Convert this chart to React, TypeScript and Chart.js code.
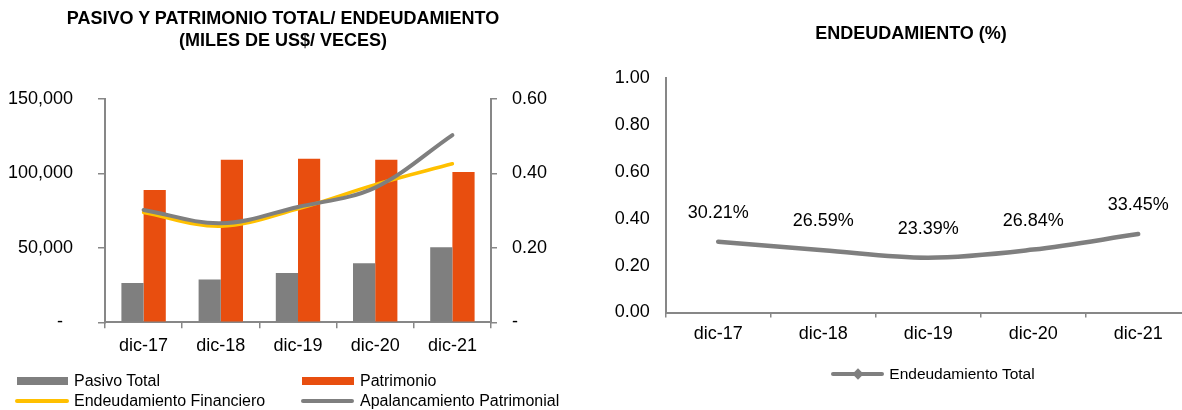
import React, { useEffect, useRef } from "react";
import { Chart, registerables } from "chart.js";

Chart.register(...registerables);

const categories = ["dic-17", "dic-18", "dic-19", "dic-20", "dic-21"];
const pasivoTotal = [26400, 28700, 33200, 39700, 50400];
const patrimonio = [88800, 109200, 109900, 109200, 100900];
const endeudamientoFinanciero = [0.295, 0.258, 0.305, 0.37, 0.426];
const apalancamientoPatrimonial = [0.302, 0.266, 0.31, 0.362, 0.503];
const endeudamientoTotal = [0.3021, 0.2659, 0.2339, 0.2684, 0.3345];

const leftTitle = ["PASIVO Y PATRIMONIO TOTAL/ ENDEUDAMIENTO", "(MILES DE US$/ VECES)"];
const rightTitle = "ENDEUDAMIENTO (%)";
const leftLegend = ["Pasivo Total", "Patrimonio", "Endeudamiento Financiero", "Apalancamiento Patrimonial"];
const rightLegend = "Endeudamiento Total";

const F = '"Liberation Sans", Arial, Helvetica, sans-serif';
const GRAY = "#7f7f7f";
const ORANGE = "#e84e0f";
const YELLOW = "#ffc000";
const AXIS = "#878787";

export default function App() {
  const leftRef = useRef<HTMLCanvasElement | null>(null);
  const rightRef = useRef<HTMLCanvasElement | null>(null);

  useEffect(() => {
    const tickFont = { size: 18, family: F };
    const left = new Chart(leftRef.current as HTMLCanvasElement, {
      type: "bar",
      data: {
        labels: categories,
        datasets: [
          {
            type: "bar",
            label: leftLegend[0],
            data: pasivoTotal,
            backgroundColor: GRAY,
            yAxisID: "y",
            order: 3,
            barPercentage: 1,
            categoryPercentage: 0.575,
          },
          {
            type: "bar",
            label: leftLegend[1],
            data: patrimonio,
            backgroundColor: ORANGE,
            yAxisID: "y",
            order: 3,
            barPercentage: 1,
            categoryPercentage: 0.575,
          },
          {
            type: "line",
            label: leftLegend[2],
            data: endeudamientoFinanciero,
            borderColor: YELLOW,
            borderWidth: 3.5,
            pointRadius: 0,
            tension: 0.35,
            yAxisID: "y1",
            order: 2,
            borderCapStyle: "round",
          },
          {
            type: "line",
            label: leftLegend[3],
            data: apalancamientoPatrimonial,
            borderColor: GRAY,
            borderWidth: 4,
            pointRadius: 0,
            tension: 0.35,
            yAxisID: "y1",
            order: 1,
            borderCapStyle: "round",
          },
        ],
      } as any,
      options: {
        animation: false,
        responsive: false,
        maintainAspectRatio: false,
        layout: { padding: { top: 99, left: 0, right: 0, bottom: 0 } },
        plugins: { legend: { display: false }, tooltip: { enabled: false }, title: { display: false } },
        scales: {
          x: {
            offset: true,
            grid: { display: true, drawOnChartArea: false, drawTicks: true, tickLength: 6, color: AXIS, lineWidth: 1.5, offset: true },
            border: { display: true, color: AXIS, width: 2 },
            ticks: { color: "#000", font: tickFont, padding: 7, maxRotation: 0, autoSkip: false },
            afterFit: (s: any) => { s.height = 410 - 322.3; },
          },
          y: {
            position: "left",
            min: 0,
            max: 150000,
            ticks: {
              stepSize: 50000,
              color: "#000",
              font: tickFont,
              padding: 25,
              callback: (v: any) => (Number(v) === 0 ? "-  " : Number(v).toLocaleString("en-US")),
            },
            grid: { drawOnChartArea: false, drawTicks: true, tickLength: 7, color: AXIS, lineWidth: 1.5 },
            border: { display: true, color: AXIS, width: 2 },
            afterFit: (s: any) => { s.width = 105; },
          },
          y1: {
            position: "right",
            min: 0,
            max: 0.6,
            ticks: {
              stepSize: 0.2,
              color: "#000",
              font: tickFont,
              padding: 15,
              callback: (v: any) => (Number(v) === 0 ? "-" : Number(v).toFixed(2)),
            },
            grid: { drawOnChartArea: false, drawTicks: true, tickLength: 6, color: AXIS, lineWidth: 1.5 },
            border: { display: true, color: AXIS, width: 2 },
            afterFit: (s: any) => { s.width = 600 - 491; },
          },
        },
      } as any,
    });

    const pctLabels = {
      id: "pctLabels",
      afterDatasetsDraw(chart: any) {
        const meta = chart.getDatasetMeta(0);
        const ctx = chart.ctx;
        ctx.save();
        ctx.font = `18px ${F}`;
        ctx.fillStyle = "#000";
        ctx.textAlign = "center";
        ctx.textBaseline = "middle";
        meta.data.forEach((pt: any, i: number) => {
          ctx.fillText((endeudamientoTotal[i] * 100).toFixed(2) + "%", pt.x, pt.y - 29);
        });
        ctx.restore();
      },
    };

    const right = new Chart(rightRef.current as HTMLCanvasElement, {
      type: "line",
      data: {
        labels: categories,
        datasets: [
          {
            label: rightLegend,
            data: endeudamientoTotal,
            borderColor: GRAY,
            borderWidth: 4.5,
            pointRadius: 0,
            tension: 0.35,
            borderCapStyle: "round",
          },
        ],
      } as any,
      options: {
        animation: false,
        responsive: false,
        maintainAspectRatio: false,
        layout: { padding: { top: 78, left: 0, right: 9.3, bottom: 0 } },
        plugins: { legend: { display: false }, tooltip: { enabled: false }, title: { display: false } },
        scales: {
          x: {
            offset: true,
            grid: { display: true, drawOnChartArea: false, drawTicks: true, tickLength: 5, color: AXIS, lineWidth: 1.5, offset: true },
            border: { display: true, color: AXIS, width: 2 },
            ticks: { color: "#000", font: tickFont, padding: 6, maxRotation: 0, autoSkip: false },
            afterFit: (s: any) => { s.height = 410 - 312.5; },
          },
          y: {
            min: 0,
            max: 1,
            ticks: {
              stepSize: 0.2,
              color: "#000",
              font: tickFont,
              padding: 16,
              callback: (v: any) => Number(v).toFixed(2),
            },
            grid: { drawOnChartArea: false, drawTicks: false },
            border: { display: true, color: AXIS, width: 2 },
            afterFit: (s: any) => { s.width = 65.7; },
          },
        },
      } as any,
      plugins: [pctLabels],
    });

    return () => {
      left.destroy();
      right.destroy();
    };
  }, []);

  const abs = (o: any) => ({ position: "absolute" as const, ...o });
  const legendText = (x: number, cy: number, text: string, size = 16) => (
    <div style={abs({ left: x, top: cy - 10, fontSize: size, lineHeight: "20px", whiteSpace: "nowrap", color: "#000" })}>{text}</div>
  );

  return (
    <div
      style={{
        position: "fixed",
        left: 0,
        top: 0,
        width: 1182,
        height: 410,
        overflow: "hidden",
        background: "#fff",
        fontFamily: F,
      }}
    >
      <canvas ref={leftRef} width={600} height={410} style={abs({ left: 0, top: 0, width: 600, height: 410, display: "block" })} />
      <canvas ref={rightRef} width={600} height={410} style={abs({ left: 600, top: 0, width: 600, height: 410, display: "block" })} />

      <div style={abs({ left: 0, top: 7.3, width: 566, textAlign: "center", fontWeight: "bold", fontSize: 18, lineHeight: "22px", color: "#000" })}>
        {leftTitle[0]}
        <br />
        {leftTitle[1]}
      </div>
      <div style={abs({ left: 600, top: 22.3, width: 622, textAlign: "center", fontWeight: "bold", fontSize: 18, lineHeight: "22px", color: "#000" })}>
        {rightTitle}
      </div>

      {/* left legend */}
      <div style={abs({ left: 16.7, top: 377, width: 51.6, height: 8, background: GRAY })} />
      {legendText(74, 380.7, leftLegend[0])}
      <div style={abs({ left: 302, top: 377, width: 52, height: 8, background: ORANGE })} />
      {legendText(360, 380.7, leftLegend[1])}
      <div style={abs({ left: 15, top: 398.7, width: 54, height: 4, borderRadius: 2, background: YELLOW })} />
      {legendText(74, 400.7, leftLegend[2])}
      <div style={abs({ left: 301, top: 398.7, width: 53, height: 4, borderRadius: 2, background: GRAY })} />
      {legendText(360, 400.7, leftLegend[3])}

      {/* right legend */}
      <div style={abs({ left: 830.7, top: 372.3, width: 53.3, height: 4, borderRadius: 2, background: GRAY })} />
      <div style={abs({ left: 854.3, top: 370.3, width: 8, height: 8, background: GRAY, transform: "rotate(45deg)" })} />
      {legendText(889.3, 374.3, rightLegend, 15.5)}
    </div>
  );
}
